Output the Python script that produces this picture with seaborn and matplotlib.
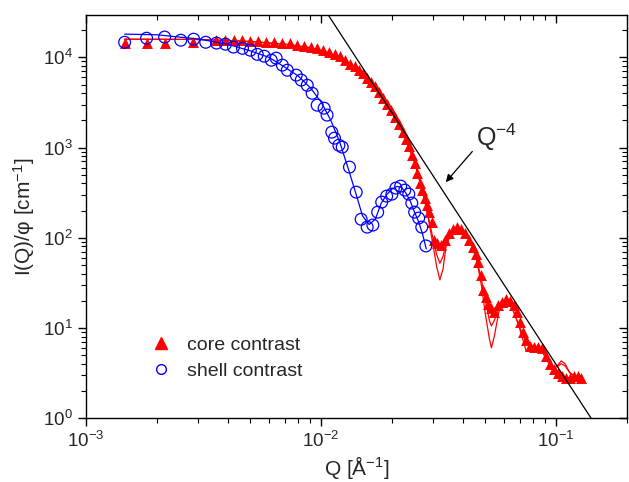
import matplotlib
matplotlib.use("Agg")
import matplotlib.pyplot as plt
from matplotlib.lines import Line2D
from matplotlib.ticker import LogLocator, NullFormatter
import seaborn as sns
import numpy as np
import pandas as pd

# ---------------- data ----------------
core_q = [1.46e-3, 1.81e-3, 2.16e-3, 2.84e-3, 3.56e-3, 3.92e-3, 4.28e-3, 4.63e-3, 5.00e-3, 5.41e-3,
          5.85e-3, 6.32e-3, 6.84e-3, 7.39e-3, 7.91e-3, 8.47e-3, 9.07e-3, 9.62e-3, 1.020e-2, 1.081e-2,
          1.147e-2, 1.203e-2, 1.264e-2, 1.327e-2, 1.393e-2, 1.449e-2, 1.507e-2, 1.566e-2, 1.629e-2, 1.693e-2,
          1.761e-2, 1.831e-2, 1.904e-2, 1.980e-2, 2.059e-2, 2.140e-2, 2.226e-2, 2.292e-2, 2.360e-2, 2.430e-2,
          2.502e-2, 2.552e-2, 2.627e-2, 2.679e-2, 2.759e-2, 2.813e-2, 2.869e-2, 2.954e-2, 3.012e-2, 3.101e-2,
          3.225e-2, 3.353e-2, 3.487e-2, 3.626e-2, 3.770e-2, 3.920e-2, 4.076e-2, 4.238e-2, 4.406e-2, 4.537e-2,
          4.671e-2, 4.810e-2, 4.905e-2, 5.050e-2, 5.150e-2, 5.303e-2, 5.460e-2, 5.677e-2, 5.903e-2, 6.138e-2,
          6.382e-2, 6.637e-2, 6.834e-2, 7.04e-2, 7.25e-2, 7.46e-2, 7.76e-2, 8.07e-2, 8.39e-2, 8.72e-2,
          9.07e-2, 9.43e-2, 9.81e-2, 0.1020, 0.1060, 0.1102, 0.1146, 0.1192, 0.1240, 0.1276]
core_i = [14370, 14370, 14370, 14750, 15520, 15520, 15520, 15520, 15130, 15130,
          14750, 14750, 14370, 14370, 13650, 13300, 12970, 12640, 12020, 11430,
          10850, 10310, 9310, 8410, 7980, 7210, 6680, 5880, 5310, 4800,
          4110, 3530, 3030, 2600, 2170, 1820, 1480, 1240, 1040, 824,
          671, 520, 403, 337, 275, 230, 192, 149, 94, 87,
          83, 94, 112, 125, 131, 125, 112, 94, 79, 66,
          54, 38.5, 26.2, 21.9, 18.4, 16.6, 15.0, 17.9, 19.3, 20.9,
          19.8, 17.9, 15.0, 11.6, 8.98, 7.33, 6.28, 6.12, 6.12, 5.97,
          4.87, 3.97, 3.49, 3.16, 2.92, 2.78, 2.78, 2.92, 2.92, 2.78]

shell_q = [1.46e-3, 1.81e-3, 2.16e-3, 2.53e-3, 2.87e-3, 3.23e-3, 3.59e-3, 3.92e-3, 4.24e-3, 4.63e-3,
           5.00e-3, 5.35e-3, 5.73e-3, 6.14e-3, 6.44e-3, 6.84e-3, 7.18e-3, 7.84e-3, 8.23e-3, 8.73e-3,
           9.16e-3, 9.62e-3, 1.03e-2, 1.06e-2, 1.11e-2, 1.14e-2, 1.19e-2, 1.23e-2, 1.32e-2, 1.41e-2,
           1.48e-2, 1.57e-2, 1.66e-2, 1.74e-2, 1.81e-2, 1.90e-2, 2.00e-2, 2.08e-2, 2.18e-2, 2.27e-2,
           2.36e-2, 2.43e-2, 2.50e-2, 2.60e-2, 2.68e-2, 2.79e-2]
shell_i = [14700, 16300, 16800, 15500, 15900, 14700, 14400, 14000, 13000, 12600,
           12000, 10800, 10300, 9300, 9800, 8200, 7200, 6350, 5600, 4900,
           4000, 2950, 2730, 2290, 1480, 1270, 1060, 1010, 606, 320,
           160, 131, 138, 192, 248, 289, 304, 355, 373, 337,
           304, 242, 192, 165, 131, 81]

fit_core_a_q = [1.46e-3, 3e-3, 5e-3, 7e-3, 9e-3, 1.1e-2, 1.3e-2, 1.5e-2, 1.7e-2, 1.9e-2,
                2.1e-2, 2.3e-2, 2.5e-2, 2.7e-2, 2.85e-2, 3.0e-2, 3.1e-2, 3.2e-2, 3.3e-2, 3.4e-2,
                3.6e-2, 3.8e-2, 4.0e-2, 4.2e-2, 4.4e-2, 4.6e-2, 4.8e-2, 5.0e-2, 5.2e-2, 5.3e-2,
                5.45e-2, 5.7e-2, 6.0e-2, 6.3e-2, 6.6e-2, 6.9e-2, 7.2e-2, 7.45e-2, 7.7e-2, 8.2e-2,
                8.7e-2, 9.2e-2, 9.7e-2, 0.101, 0.105, 0.109, 0.114, 0.120, 0.125]
fit_core_a_i = [15900, 15800, 15000, 14000, 12800, 11000, 8700, 6600, 4700, 3050,
                1950, 1200, 680, 330, 170, 80, 48, 34, 45, 80,
                118, 128, 120, 100, 78, 55, 30, 14, 7.5, 6.0,
                8.0, 15, 20, 19, 15, 11, 7.5, 5.5, 6.0, 6.2,
                5.5, 4.2, 3.6, 3.8, 4.3, 4.0, 3.2, 2.9, 3.0]
fit_core_b_q = [1.46e-3, 3e-3, 5e-3, 7e-3, 9e-3, 1.1e-2, 1.3e-2, 1.5e-2, 1.7e-2, 1.9e-2,
                2.1e-2, 2.3e-2, 2.5e-2, 2.7e-2, 2.85e-2, 3.0e-2, 3.1e-2, 3.2e-2, 3.3e-2, 3.4e-2,
                3.6e-2, 3.8e-2, 4.0e-2, 4.2e-2, 4.4e-2, 4.6e-2, 4.8e-2, 5.0e-2, 5.2e-2, 5.3e-2,
                5.45e-2, 5.7e-2, 6.0e-2, 6.3e-2, 6.6e-2, 6.9e-2, 7.2e-2, 7.45e-2, 7.7e-2, 8.2e-2,
                8.7e-2, 9.2e-2, 9.7e-2, 0.101, 0.105, 0.109, 0.114, 0.120, 0.125]
fit_core_b_i = [15900, 15800, 15000, 14000, 12800, 11000, 8700, 6600, 4700, 3050,
                1950, 1200, 680, 330, 175, 95, 65, 52, 62, 88,
                115, 126, 120, 100, 78, 56, 35, 20, 12, 10.5,
                12, 16.5, 19.5, 18.5, 15, 11, 8.5, 6.8, 6.4, 6.2,
                5.5, 4.3, 3.7, 3.7, 4.0, 3.8, 3.2, 2.9, 3.0]

fit_shell_q = [1.46e-3, 2.0e-3, 3.0e-3, 4.0e-3, 5.0e-3, 6.0e-3, 7.0e-3, 8.0e-3, 9.0e-3, 1.0e-2,
               1.1e-2, 1.2e-2, 1.3e-2, 1.4e-2, 1.5e-2, 1.6e-2, 1.7e-2, 1.8e-2, 1.9e-2, 2.0e-2,
               2.1e-2, 2.2e-2, 2.3e-2, 2.4e-2, 2.5e-2, 2.6e-2, 2.7e-2, 2.8e-2]
fit_shell_i = [18100, 17800, 16000, 14000, 11800, 10000, 7800, 6200, 4600, 3200,
               2000, 1150, 600, 320, 175, 140, 160, 240, 300, 345,
               370, 360, 310, 250, 190, 150, 110, 75]

guide_q = [0.0100, 0.150]
guide_i = [3.9e4, 0.77]

labels = ["core contrast", "shell contrast"]

# ---------------- styling ----------------
sns.set_theme(style="ticks")
plt.rcParams["font.family"] = ["Liberation Sans", "DejaVu Sans"]
plt.rcParams["mathtext.default"] = "regular"
plt.rcParams["axes.unicode_minus"] = False
plt.rcParams["axes.linewidth"] = 1.0

fig = plt.figure(figsize=(6.29, 4.82), dpi=100)
rect = [86 / 629, 1 - 418 / 482, 541 / 629, 403 / 482]
ax = fig.add_axes(rect)
ax.set_xscale("log")
ax.set_yscale("log")

red = "#FF0000"
blue = "#0000FF"

# fits (core)
sns.lineplot(x=fit_core_a_q, y=fit_core_a_i, ax=ax, color=red, lw=0.9, sort=False, estimator=None)
sns.lineplot(x=fit_core_b_q, y=fit_core_b_i, ax=ax, color=red, lw=0.9, sort=False, estimator=None)
# core data
sns.scatterplot(x=core_q, y=core_i, ax=ax, marker="^", s=62, color=red, edgecolor=red, linewidth=0, zorder=3)
# shell fit + data
sns.lineplot(x=fit_shell_q, y=fit_shell_i, ax=ax, color=blue, lw=0.9, sort=False, estimator=None, zorder=4)
sns.scatterplot(x=shell_q, y=shell_i, ax=ax, marker="o", s=72, facecolors="none", edgecolor=blue,
                linewidth=0.9, zorder=5)
# Q^-4 guide
sns.lineplot(x=guide_q, y=guide_i, ax=ax, color="black", lw=0.9, sort=False, estimator=None, zorder=6)

XLIM = (1e-3, 0.2)
YLIM = (1, 2.95e4)
ax.set_xlim(*XLIM)
ax.set_ylim(*YLIM)

ax.annotate("Q$^{-4}$", xy=(0.0339, 413), xytext=(0.0458, 1300),
            fontsize=18, ha="left", va="center",
            arrowprops=dict(arrowstyle="-|>", color="black", lw=0.9, mutation_scale=11,
                            shrinkA=1, shrinkB=0, relpos=(0.0, 0.2)))

ax.set_xlabel("Q [Å$^{-1}$]", fontsize=15, labelpad=2)
ax.set_ylabel("I(Q)/φ [cm$^{-1}$]", fontsize=15, labelpad=4)


def style_log_axis(axis):
    axis.set_major_locator(LogLocator(base=10, numticks=20))
    axis.set_minor_locator(LogLocator(base=10, subs=np.arange(2, 10), numticks=100))
    axis.set_minor_formatter(NullFormatter())


style_log_axis(ax.xaxis)
style_log_axis(ax.yaxis)
ax.tick_params(which="both", direction="out", top=False, right=False, labelsize=13.5, color="black")
ax.tick_params(which="major", length=6, width=1)
ax.tick_params(which="minor", length=3.5, width=0.8)

# independent overlay axes for the inward top / right ticks
ov = fig.add_axes(rect, frameon=False)
ov.set_xscale("log")
ov.set_yscale("log")
ov.set_xlim(*XLIM)
ov.set_ylim(*YLIM)
style_log_axis(ov.xaxis)
style_log_axis(ov.yaxis)
ov.patch.set_visible(False)
ov.tick_params(which="both", direction="in", bottom=False, left=False, top=True, right=True,
               labelbottom=False, labelleft=False, labeltop=False, labelright=False, color="black")
ov.tick_params(which="major", length=6, width=1)
ov.tick_params(which="minor", length=3.5, width=0.8)
for s in ax.spines.values():
    s.set_color("black")
    s.set_linewidth(1.0)

handles = [Line2D([], [], marker="^", ls="none", color=red, mec=red, ms=8),
           Line2D([], [], marker="o", ls="none", mfc="none", mec=blue, mew=1.0, ms=7)]
ax.legend(handles=handles, labels=labels, loc="upper left", bbox_to_anchor=(0.120, 0.202),
          frameon=False, fontsize=14, handlelength=1.0, handletextpad=0.85,
          labelspacing=0.4, borderpad=0, borderaxespad=0)

fig.savefig("out.png", dpi=100)
